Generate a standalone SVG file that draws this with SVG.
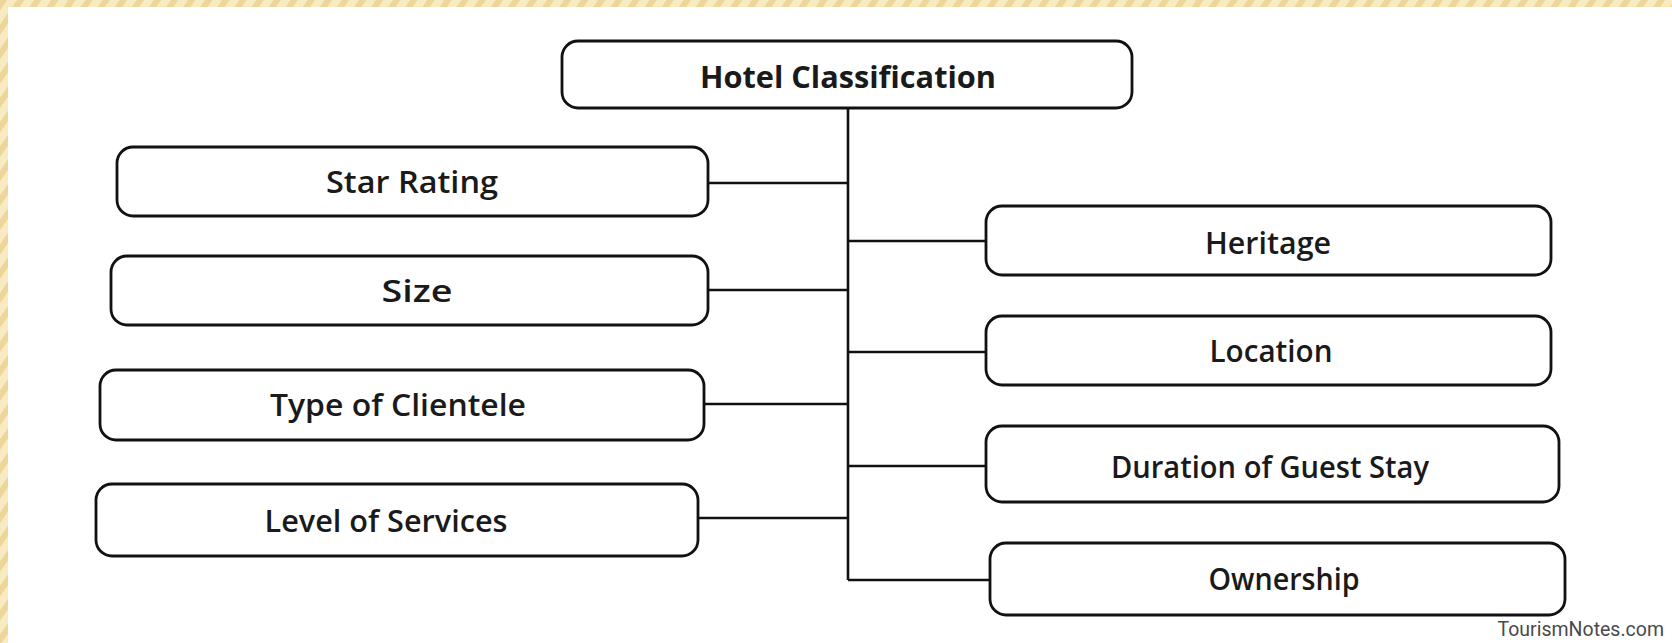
<svg xmlns="http://www.w3.org/2000/svg" width="1672" height="643" viewBox="0 0 1672 643">
  <defs>
    <!-- diagonal striped frame fill -->
    <pattern id="stripes" width="14" height="14" patternUnits="userSpaceOnUse" patternTransform="rotate(35)">
      <rect width="14" height="14" fill="#f8ebc2"/>
      <rect width="6" height="14" fill="#edd699"/>
    </pattern>
  </defs>
  <style>
    .box { fill: #ffffff; stroke: #111111; stroke-width: 2.8; }
    .lbl { font-family: "Open Sans", "Noto Sans", "Liberation Sans", sans-serif; font-weight: 600; font-size: 31px; fill: #1a1a1a; text-anchor: middle; dominant-baseline: central; }
    .title { font-weight: 700; }
    .wire { fill: none; stroke: #111111; stroke-width: 2.6; }
    .mark { font-family: "Roboto", "Liberation Sans", sans-serif; font-size: 19.5px; fill: #4a4a4a; text-anchor: end; }
  </style>

  <rect width="1672" height="643" fill="#ffffff"/>
  <!-- frame bands -->
  <rect x="0" y="0" width="1672" height="7" fill="url(#stripes)"/>
  <rect x="0" y="0" width="8" height="643" fill="url(#stripes)"/>

  <!-- connectors -->
  <g id="connectors" class="wire">
    <path d="M848,108 V580"/>
    <path d="M708,183 H848"/>
    <path d="M708,290 H848"/>
    <path d="M704,404 H848"/>
    <path d="M698,518 H848"/>
    <path d="M848,241 H986"/>
    <path d="M848,352 H986"/>
    <path d="M848,466 H986"/>
    <path d="M848,580 H990"/>
  </g>

  <g id="hotel-classification">
    <rect class="box" x="562" y="41" width="570" height="67" rx="16"/>
    <text class="lbl title" x="848" y="76" textLength="296" lengthAdjust="spacingAndGlyphs">Hotel Classification</text>
  </g>

  <g id="star-rating">
    <rect class="box" x="117" y="147" width="591" height="69" rx="16"/>
    <text class="lbl" x="412" y="181" textLength="172" lengthAdjust="spacingAndGlyphs">Star Rating</text>
  </g>
  <g id="size">
    <rect class="box" x="111" y="256" width="597" height="69" rx="16"/>
    <text class="lbl" x="417" y="290" textLength="71" lengthAdjust="spacingAndGlyphs">Size</text>
  </g>
  <g id="type-of-clientele">
    <rect class="box" x="100" y="370" width="604" height="70" rx="16"/>
    <text class="lbl" x="398" y="404" textLength="256" lengthAdjust="spacingAndGlyphs">Type of Clientele</text>
  </g>
  <g id="level-of-services">
    <rect class="box" x="96" y="484" width="602" height="72" rx="16"/>
    <text class="lbl" x="386" y="520" textLength="243" lengthAdjust="spacingAndGlyphs">Level of Services</text>
  </g>

  <g id="heritage">
    <rect class="box" x="986" y="206" width="565" height="69" rx="16"/>
    <text class="lbl" x="1268" y="242" textLength="126" lengthAdjust="spacingAndGlyphs">Heritage</text>
  </g>
  <g id="location">
    <rect class="box" x="986" y="316" width="565" height="69" rx="16"/>
    <text class="lbl" x="1271" y="350" textLength="123" lengthAdjust="spacingAndGlyphs">Location</text>
  </g>
  <g id="duration-of-guest-stay">
    <rect class="box" x="986" y="426" width="573" height="76" rx="16"/>
    <text class="lbl" x="1270" y="466" textLength="318" lengthAdjust="spacingAndGlyphs">Duration of Guest Stay</text>
  </g>
  <g id="ownership">
    <rect class="box" x="990" y="543" width="575" height="72" rx="16"/>
    <text class="lbl" x="1284" y="578" textLength="151" lengthAdjust="spacingAndGlyphs">Ownership</text>
  </g>

  <text class="mark" x="1664" y="636">TourismNotes.com</text>
</svg>
